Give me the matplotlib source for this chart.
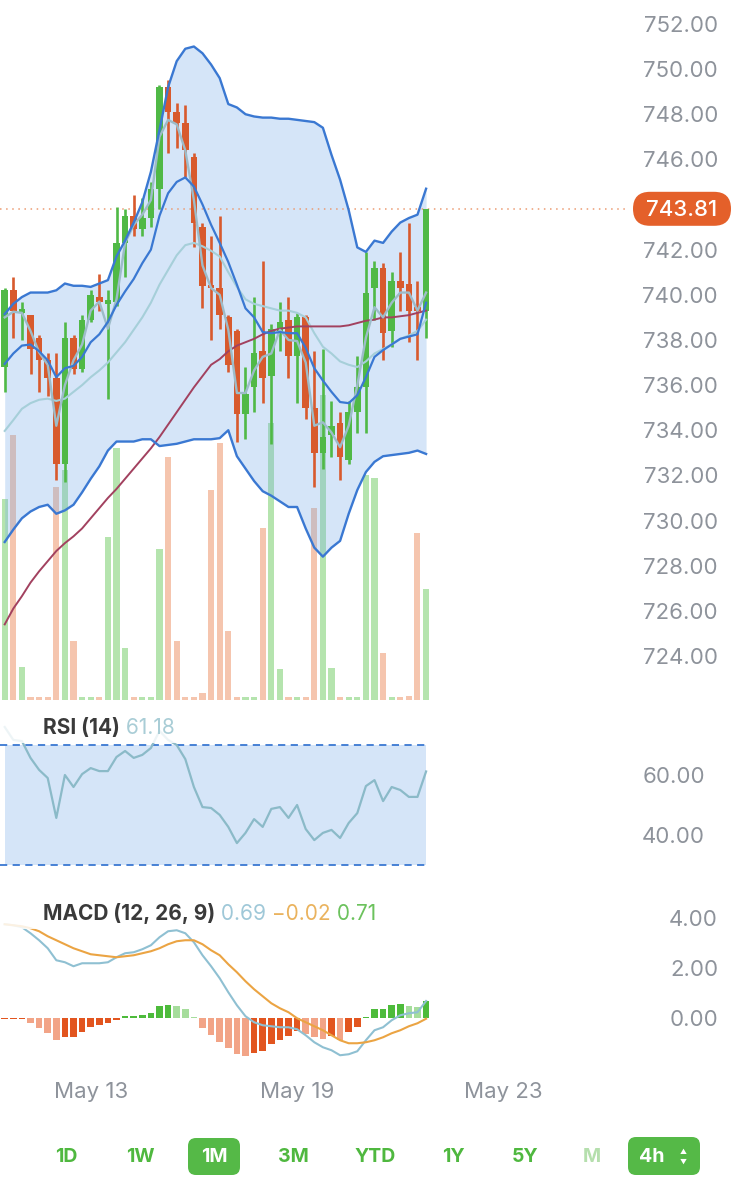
import numpy as np
import matplotlib
matplotlib.use('Agg')
import matplotlib.pyplot as plt
from matplotlib.patches import FancyBboxPatch, Rectangle

plt.rcParams['font.family'] = ['Inter', 'DejaVu Sans']

# 4h candles, oldest first
opens = [736.8, 740.2, 739.2, 739.1, 738.1, 737.1, 736.3, 732.5, 738.1, 736.7,
         738.9, 739.9, 739.6, 739.7, 742.3, 743.5, 742.9, 743.4, 744.7, 749.2,
         748.1, 747.6, 746.1, 743.0, 740.4, 740.3, 739.0, 738.4, 734.7, 735.9,
         737.5, 736.4, 738.4, 738.9, 737.3, 739.0, 735.0, 733.0, 733.8, 734.3,
         732.7, 734.8, 735.9, 740.3, 741.2, 738.4, 740.6, 740.5, 739.4, 739.3]
highs = [740.3, 740.8, 739.7, 739.1, 738.2, 737.4, 737.4, 738.8, 738.2, 739.1,
         740.2, 740.9, 740.2, 743.9, 743.8, 744.4, 744.3, 745.0, 749.3, 749.5,
         748.5, 748.4, 746.3, 743.2, 742.6, 743.5, 739.1, 738.5, 736.8, 739.9,
         741.5, 738.7, 739.7, 739.9, 739.2, 739.1, 737.5, 737.6, 735.3, 734.8,
         735.3, 737.3, 741.9, 741.5, 741.4, 741.0, 741.9, 743.2, 740.6, 743.81]
lows = [735.7, 738.1, 738.0, 736.5, 735.7, 735.5, 731.8, 731.7, 736.5, 736.6,
        738.8, 739.3, 735.4, 739.5, 740.8, 742.6, 742.6, 743.0, 743.8, 746.3,
        746.5, 745.2, 742.1, 739.4, 738.0, 738.5, 736.6, 733.5, 733.6, 734.8,
        735.2, 733.4, 737.5, 736.3, 735.2, 734.5, 731.5, 732.3, 732.8, 731.8,
        732.5, 733.9, 733.9, 738.9, 737.1, 737.7, 739.3, 737.9, 737.1, 738.1]
closes = [740.2, 739.3, 739.3, 737.6, 737.1, 736.3, 732.5, 738.1, 736.7, 738.9,
          740.0, 739.7, 739.7, 742.3, 743.5, 742.9, 743.4, 744.7, 749.2, 748.1,
          747.6, 746.4, 743.2, 740.4, 740.3, 739.1, 736.9, 734.7, 735.6, 737.4,
          736.3, 738.5, 738.8, 737.3, 739.0, 735.0, 733.0, 733.7, 734.2, 732.8,
          734.8, 735.9, 740.1, 741.2, 738.3, 740.6, 740.3, 739.3, 739.3, 743.81]
volume = [201, 265, 33, 3, 3, 3, 213, 230, 59, 3,
          3, 3, 163, 252, 52, 3, 3, 3, 151, 243,
          59, 3, 3, 7, 210, 257, 69, 3, 3, 3,
          172, 277, 31, 3, 3, 3, 192, 305, 32, 3,
          3, 3, 225, 222, 47, 3, 3, 4, 167, 111]

bb_upper = [739.15, 739.6, 739.9, 740.1, 740.1, 740.1, 740.2, 740.5, 740.4, 740.4,
            740.35, 740.5, 740.65, 741.7, 742.4, 743.2, 744.1, 745.45, 747.3, 749.2,
            750.35, 750.9, 751.0, 750.7, 750.2, 749.6, 748.45, 748.3, 748.0, 747.9,
            747.85, 747.85, 747.8, 747.8, 747.75, 747.7, 747.65, 747.4, 746.2, 745.1,
            743.75, 742.1, 741.9, 742.4, 742.3, 742.8, 743.2, 743.4, 743.55, 744.7]
bb_lower = [729.05, 729.6, 730.1, 730.4, 730.6, 730.7, 730.3, 730.45, 730.7, 731.25,
            731.85, 732.4, 733.1, 733.5, 733.5, 733.5, 733.6, 733.6, 733.3, 733.35,
            733.4, 733.5, 733.6, 733.6, 733.6, 733.65, 734.0, 732.85, 732.3, 731.75,
            731.3, 731.1, 730.85, 730.6, 730.6, 729.65, 728.8, 728.4, 728.8, 729.1,
            730.3, 731.35, 732.15, 732.6, 732.85, 732.9, 732.95, 733.0, 733.1, 732.95]
ema_blue = [736.94, 737.4, 737.75, 737.8, 737.5, 737.1, 736.35, 736.75, 736.85, 737.25,
            737.9, 738.25, 738.8, 739.55, 740.15, 740.7, 741.4, 742.0, 743.5, 744.5,
            745.0, 745.2, 744.8, 744.0, 743.1, 742.3, 741.45, 740.45, 739.4, 739.0,
            738.35, 738.3, 738.35, 738.3, 738.3, 737.65, 736.75, 736.2, 735.7, 735.25,
            735.2, 735.55, 736.35, 737.25, 737.55, 737.8, 738.05, 738.15, 738.25, 739.65]
ma_fast = [739.0, 739.25, 739.2, 738.4, 737.45, 736.9, 734.2, 736.0, 737.1, 737.8,
           739.3, 739.7, 738.5, 739.8, 742.3, 743.1, 743.55, 744.2, 747.0, 747.75,
           747.55, 746.4, 744.2, 741.3, 740.3, 740.0, 738.45, 735.65, 735.65, 736.65,
           737.25, 737.4, 738.45, 738.0, 737.95, 737.0, 734.2, 734.35, 733.9, 733.25,
           734.2, 736.0, 738.1, 739.45, 739.0, 739.65, 740.1, 740.1, 739.3, 740.1]
ma_mid = [733.97, 734.45, 734.95, 735.2, 735.35, 735.4, 735.3, 735.4, 735.7, 736.0,
          736.35, 736.65, 737.0, 737.45, 737.9, 738.45, 739.0, 739.65, 740.45, 741.1,
          741.75, 742.2, 742.3, 742.15, 741.95, 741.7, 741.0, 740.35, 739.8, 739.6,
          739.5, 739.4, 739.3, 739.3, 739.2, 739.0, 738.3, 737.7, 737.4, 737.05,
          736.9, 736.8, 737.05, 737.4, 737.6, 737.8, 738.05, 738.2, 738.4, 738.9]
ma_long = [725.4, 726.1, 726.65, 727.25, 727.75, 728.2, 728.65, 729.0, 729.3, 729.65,
           730.1, 730.55, 731.0, 731.4, 731.85, 732.3, 732.75, 733.2, 733.7, 734.25,
           734.8, 735.35, 735.9, 736.4, 736.9, 737.15, 737.5, 737.75, 737.9, 738.05,
           738.25, 738.4, 738.5, 738.55, 738.6, 738.6, 738.6, 738.6, 738.6, 738.6,
           738.65, 738.75, 738.85, 738.9, 739.0, 739.0, 739.05, 739.1, 739.2, 739.3]

rsi = [76.0, 71.7, 71.3, 65.7, 61.7, 59.0, 45.7, 60.0, 56.0, 60.3,
       62.3, 61.3, 61.3, 66.0, 68.0, 65.7, 66.7, 69.0, 74.7, 71.7,
       70.0, 65.3, 56.0, 49.3, 49.0, 46.7, 42.7, 37.3, 40.7, 45.3,
       42.7, 48.7, 49.3, 45.7, 50.0, 42.0, 38.3, 40.7, 41.7, 39.0,
       44.0, 47.3, 56.3, 58.3, 51.3, 56.0, 55.0, 52.7, 52.7, 61.18]

macd = [3.76, 3.72, 3.64, 3.4, 3.12, 2.8, 2.32, 2.24, 2.08, 2.2,
        2.2, 2.2, 2.24, 2.44, 2.6, 2.64, 2.76, 2.92, 3.24, 3.48,
        3.52, 3.4, 3.04, 2.52, 2.08, 1.6, 1.04, 0.52, 0.08, -0.16,
        -0.28, -0.32, -0.36, -0.36, -0.44, -0.68, -0.96, -1.16, -1.28, -1.48,
        -1.44, -1.32, -0.88, -0.48, -0.36, -0.08, 0.12, 0.2, 0.24, 0.69]
signal = [3.76, 3.72, 3.68, 3.6, 3.48, 3.28, 3.12, 2.96, 2.8, 2.68,
          2.56, 2.52, 2.48, 2.44, 2.48, 2.52, 2.6, 2.68, 2.8, 2.96,
          3.08, 3.12, 3.12, 2.96, 2.72, 2.52, 2.16, 1.84, 1.48, 1.16,
          0.88, 0.6, 0.4, 0.24, 0.0, -0.16, -0.32, -0.48, -0.68, -0.88,
          -1.0, -1.0, -0.96, -0.88, -0.76, -0.6, -0.48, -0.32, -0.2, -0.02]
hist = [-0.04, -0.04, -0.04, -0.2, -0.4, -0.6, -0.87, -0.75, -0.75, -0.55,
        -0.35, -0.27, -0.19, -0.07, 0.09, 0.09, 0.13, 0.21, 0.49, 0.53,
        0.49, 0.37, 0.05, -0.39, -0.67, -0.95, -1.19, -1.43, -1.51, -1.39,
        -1.31, -1.03, -0.87, -0.71, -0.51, -0.63, -0.75, -0.83, -0.71, -0.87,
        -0.55, -0.35, 0.05, 0.37, 0.37, 0.53, 0.57, 0.49, 0.45, 0.71]

price_ticks = [724, 726, 728, 730, 732, 734, 736, 738, 740, 742, 746, 748, 750, 752]
rsi_ticks = [40, 60]
macd_ticks = [0, 2, 4]
date_ticks = [10, 34, 58]
date_labels = ['May 13', 'May 19', 'May 23']
ranges = ['1D', '1W', '1M', '3M', 'YTD', '1Y', '5Y', 'M', '4h']
last_price = 743.81
rsi_last = '61.18'
macd_last = ['0.69', '\u22120.02', '0.71']

GREEN = '#50b946'
RED = '#d85a2d'
BLUE = '#3a78d2'
FILL = '#76ace8'
GRAY = '#8e939b'

W, H = 741, 1200
fig = plt.figure(figsize=(W / 100, H / 100), dpi=100)
fig.patch.set_facecolor('white')


def rect(y0, y1, x0=0, x1=625):
    return [x0 / W, 1 - y1 / H, (x1 - x0) / W, (y1 - y0) / H]


idx = np.arange(len(closes))
xlim = (-0.547, 72.13)

# volume sits behind the price panel
ax_vol = fig.add_axes(rect(0, 700), zorder=0)
ax_price = fig.add_axes(rect(0, 700), zorder=1)
ax_price.patch.set_alpha(0)
ax_rsi = fig.add_axes(rect(712, 880), zorder=1)
ax_macd = fig.add_axes(rect(895, 1065), zorder=1)

o = np.array(opens); c = np.array(closes)
up = c >= o
candle_col = np.where(up, GREEN, RED)
vol_col = np.where(up, '#b5e4ae', '#f5c5ae')

ax_vol.bar(idx, volume, width=0.7, color=vol_col)
ax_vol.set_ylim(0, 700)
ax_vol.set_xlim(*xlim)
ax_vol.axis('off')

# price panel
ax_price.fill_between(idx, bb_lower, bb_upper, color=FILL, alpha=0.3, lw=0, zorder=1)
ax_price.axhline(last_price, color='#ec9b72', lw=1.1, ls=(0, (1, 3)), zorder=1.5)
ax_price.vlines(idx, lows, highs, color=candle_col, lw=1.9, zorder=3)
body_lo = np.minimum(o, c)
body_h = np.maximum(np.abs(c - o), 0.15)
ax_price.bar(idx, body_h, bottom=body_lo, width=0.76, color=candle_col, zorder=3)
ax_price.plot(idx, ma_mid, color='#a6cfd9', lw=1.5, zorder=4)
ax_price.plot(idx, ma_long, color='#a2415f', lw=1.4, zorder=4)
ax_price.plot(idx, ma_fast, color='#9dbcc9', lw=1.7, zorder=4)
ax_price.plot(idx, ema_blue, color=BLUE, lw=1.6, zorder=4)
ax_price.plot(idx, bb_upper, color=BLUE, lw=1.7, zorder=4)
ax_price.plot(idx, bb_lower, color=BLUE, lw=1.7, zorder=4)
ax_price.set_ylim(722.05, 753.06)
ax_price.set_yticks(price_ticks)
ax_price.set_yticklabels([f'{v:.2f}' for v in price_ticks])

# RSI panel
ax_rsi.fill_between(idx, 30, 70, color=FILL, alpha=0.3, lw=0)
ax_rsi.hlines([30, 70], idx[0] - 0.547, idx[-1], color=BLUE, lw=1.3, ls=(0, (4, 3)))
ax_rsi.plot(idx, rsi, color='#8bbac8', lw=1.6)
ax_rsi.set_ylim(25, 81)
ax_rsi.set_yticks(rsi_ticks)
ax_rsi.set_yticklabels([f'{v:.2f}' for v in rsi_ticks])

# MACD panel
hist_col = []
for i, h in enumerate(hist):
    prev = hist[i - 1] if i > 0 else h
    if h >= 0:
        hist_col.append('#4dbb3b' if h >= prev else '#a6dd9c')
    else:
        hist_col.append('#f2a487' if h < prev else '#e2551f')
ax_macd.bar(idx, hist, width=0.75, color=hist_col)
ax_macd.plot(idx, macd, color='#8fc0d2', lw=1.5)
ax_macd.plot(idx, signal, color='#eba443', lw=1.5)
ax_macd.set_ylim(-1.87, 4.93)
ax_macd.set_yticks(macd_ticks)
ax_macd.set_yticklabels([f'{v:.2f}' for v in macd_ticks])
ax_macd.set_xticks(date_ticks)
ax_macd.set_xticklabels(date_labels)
ax_macd.tick_params(axis='x', length=0, pad=12, labelsize=16, labelcolor=GRAY)

for ax, pad in ((ax_price, 67), (ax_rsi, 57.5), (ax_macd, 67)):
    ax.set_xlim(*xlim)
    for s in ax.spines.values():
        s.set_visible(False)
    ax.yaxis.tick_right()
    ax.tick_params(axis='y', length=0, pad=pad, labelsize=16, labelcolor=GRAY)
    for lab in ax.get_yticklabels():
        lab.set_horizontalalignment('right')
    if ax is not ax_macd:
        ax.set_xticks([])

# overlay in pixel units for labels and buttons
ui = fig.add_axes([0, 0, 1, 1], zorder=5)
ui.set_xlim(0, W)
ui.set_ylim(H, 0)
ui.axis('off')

# current price badge
yd = ax_price.transData.transform((0, last_price))[1]
y_badge = ui.transData.inverted().transform((0, yd))[1]
ui.add_patch(FancyBboxPatch((633, y_badge - 17), 98, 34,
                            boxstyle='round,pad=0,rounding_size=17',
                            fc='#e4602a', ec='none'))
ui.text(682, y_badge + 1, f'{last_price:.2f}', color='white', fontsize=16,
        fontweight='medium', ha='center', va='center')

# indicator captions
ui.add_patch(Rectangle((0, 712), 236, 31, fc='white', alpha=0.85, ec='none'))
t = ui.text(43, 728, 'RSI (14)', fontsize=15, fontweight='bold', color='#3a3a3a', va='center')
ui.annotate(' ' + rsi_last, xy=(1, 0.5), xycoords=t, va='center', fontsize=15,
            color='#a9cdd6')

ui.add_patch(Rectangle((0, 898), 418, 31, fc='white', alpha=0.85, ec='none'))
t = ui.text(43, 914, 'MACD (12, 26, 9)', fontsize=15, fontweight='bold', color='#3a3a3a',
            va='center')
for txt, col in zip(macd_last, ['#9fc8d8', '#eab35e', '#6cc25d']):
    t = ui.annotate(' ' + txt, xy=(1, 0.5), xycoords=t, va='center', fontsize=15, color=col)

# range buttons
btn_x = [66, 140, 214, 293, 375, 453, 525, 592, 664]
for lab, x in zip(ranges, btn_x):
    if lab == '1M':
        ui.add_patch(FancyBboxPatch((188, 1138), 52, 37, boxstyle='round,pad=0,rounding_size=8',
                                    fc='#55b947', ec='none'))
        ui.text(x, 1157, lab, color='white', fontsize=14, fontweight='bold', ha='center', va='center')
    elif lab == '4h':
        ui.add_patch(FancyBboxPatch((628, 1137), 72, 38, boxstyle='round,pad=0,rounding_size=8',
                                    fc='#55b947', ec='none'))
        ui.text(652, 1157, lab, color='white', fontsize=14, fontweight='bold', ha='center', va='center')
        ui.text(683, 1152, '\u25b2', color='white', fontsize=5, ha='center', va='center')
        ui.text(683, 1162, '\u25bc', color='white', fontsize=5, ha='center', va='center')
    elif lab == 'M':
        ui.text(x, 1157, lab, color='#b5dfad', fontsize=14, fontweight='bold', ha='center', va='center')
    else:
        ui.text(x, 1157, lab, color='#4fb83f', fontsize=14, fontweight='bold', ha='center', va='center')

fig.savefig('out.png', dpi=100, facecolor='white')
